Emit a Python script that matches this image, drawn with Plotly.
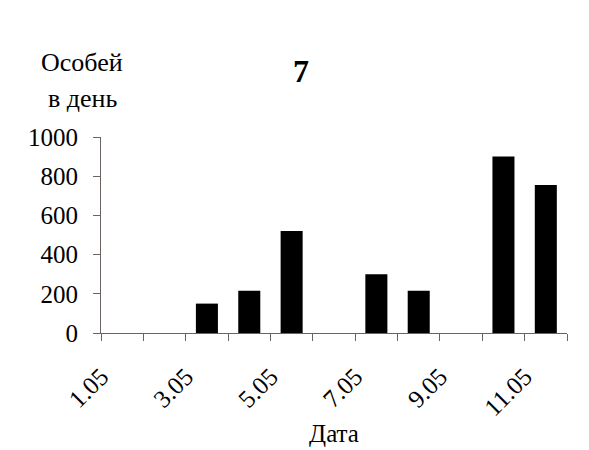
import plotly.graph_objects as go

dates = ["1.05", "2.05", "3.05", "4.05", "5.05", "6.05", "7.05", "8.05", "9.05", "10.05", "11.05"]
counts = [0, 0, 150, 215, 520, 0, 300, 215, 0, 900, 755]
tick_labels = ["1.05", "", "3.05", "", "5.05", "", "7.05", "", "9.05", "", "11.05"]
y_ticks = [0, 200, 400, 600, 800, 1000]

FONT = "Liberation Serif, Times New Roman, serif"
AX = "#6b6460"

fig = go.Figure(go.Bar(x=dates, y=counts, marker=dict(color="black", line=dict(width=0)), width=0.52))

# page body has an 8px margin, so margins are shifted by 8px
fig.update_layout(
    width=589, height=450,
    paper_bgcolor="white", plot_bgcolor="white",
    margin=dict(l=93, r=30, t=129, b=125, autoexpand=False),
    font=dict(family=FONT, size=25, color="black"),
    showlegend=False,
)
fig.update_xaxes(
    type="category", categoryorder="array", categoryarray=dates,
    tickmode="array", tickvals=dates, ticktext=tick_labels,
    tickson="boundaries", ticks="outside", ticklen=7, tickcolor=AX, tickwidth=1,
    tickangle=-45, ticklabelshift=-21, ticklabelstandoff=18,
    showline=True, linecolor=AX, linewidth=1, automargin=False,
    showgrid=False, zeroline=False,
    title=dict(text="Дата", font=dict(family=FONT, size=25), standoff=4),
)
fig.update_yaxes(
    range=[0, 1000], tickmode="array", tickvals=y_ticks,
    ticks="outside", ticklen=7, tickcolor=AX, tickwidth=1,
    showline=True, linecolor=AX, linewidth=1, showgrid=False, zeroline=False,
    ticklabelstandoff=10, automargin=False,
)
fig.add_annotation(text="Особей", xref="paper", yref="paper", x=-0.04, y=1.0, xanchor="center", yanchor="middle",
                   showarrow=False, font=dict(family=FONT, size=26), yshift=75)
fig.add_annotation(text="в день", xref="paper", yref="paper", x=-0.04, y=1.0, xanchor="center", yanchor="middle",
                   showarrow=False, font=dict(family=FONT, size=26), yshift=39)
fig.add_annotation(text="<b>7</b>", xref="paper", yref="paper", x=0.43, y=1.0, xanchor="center", yanchor="middle",
                   showarrow=False, font=dict(family=FONT, size=32), yshift=66)

fig.write_html("out.html")
